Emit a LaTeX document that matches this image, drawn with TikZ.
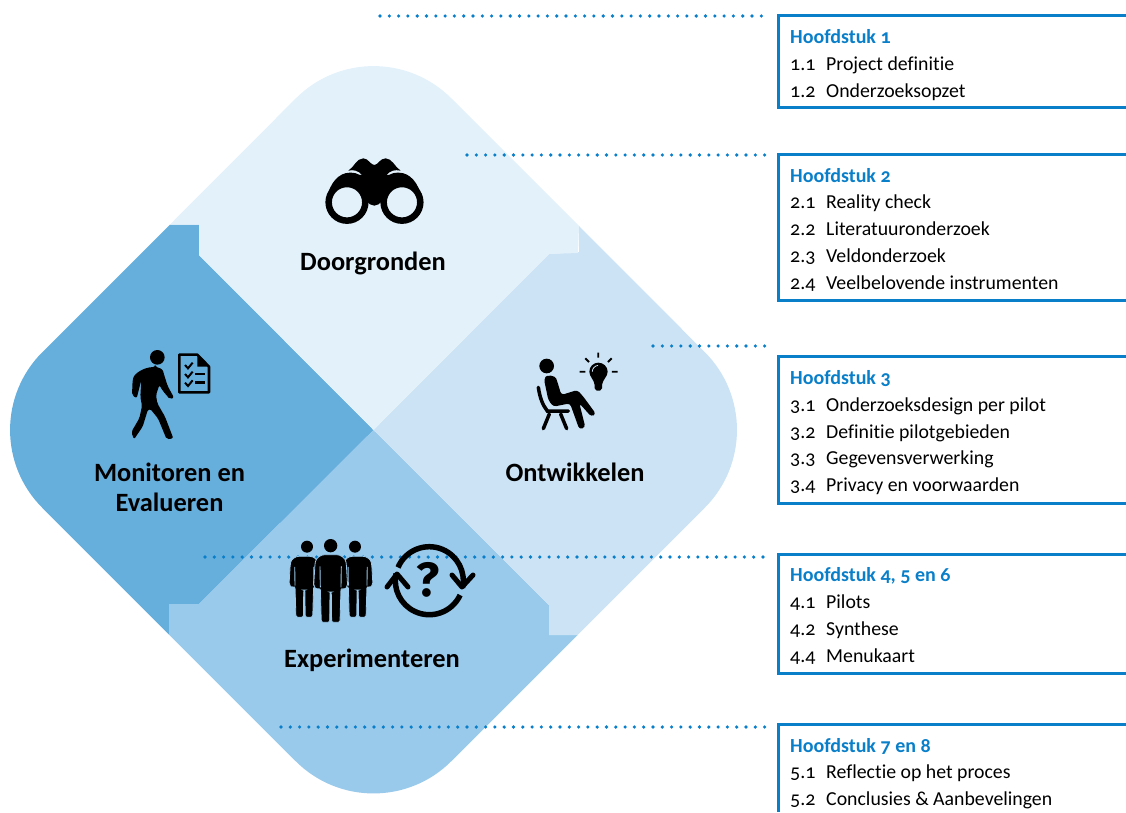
\documentclass[tikz,border=0pt]{standalone}
\usepackage{fontspec}
\setmainfont[Numbers=OldStyle,Ligatures=NoCommon]{Carlito}
\newfontfamily\questfont{Fira Sans}
\definecolor{topblue}{HTML}{E3F1FA}
\definecolor{rightblue}{HTML}{CBE3F4}
\definecolor{bottomblue}{HTML}{99CAEB}
\definecolor{leftblue}{HTML}{66AFDD}
\definecolor{chapblue}{HTML}{0A7FC9}
\tikzset{
  chaphead/.style={anchor=base west,inner sep=0pt,text=chapblue,font=\fontsize{20}{24}\selectfont\bfseries},
  chapnum/.style={anchor=base west,inner sep=0pt,font=\fontsize{20}{24}\selectfont},
  chapitem/.style={anchor=base west,inner sep=0pt,font=\fontsize{19.8}{24}\selectfont},
  phase/.style={anchor=base,inner sep=0pt,font=\fontsize{26.4}{30}\selectfont\bfseries},
  chapline/.style={chapblue,line width=3pt},
  dotline/.style={chapblue,line width=3.6pt,line cap=round,dash pattern=on 0pt off 9.3pt},
  person/.pic={
    \filldraw[draw=bottomblue,line width=.8pt,rounded corners=2pt] (-47,28) .. controls (-44,10) and (-30,0) .. (-12,0) -- (12,0) .. controls (30,0) and (44,10) .. (47,28)
      -- (51,95) -- (40,106) -- (31,100) -- (28,203) -- (3,203) -- (2,112) -- (-2,112) -- (-3,203) -- (-28,203) -- (-31,100) -- (-40,106) -- (-51,95) -- cycle;
    \draw[bottomblue,line width=.9pt] (-32,35) -- (-31,98) (32,35) -- (31,98);
  }
}
\begin{document}
\begin{tikzpicture}[x=1pt,y=-1pt]
\useasboundingbox (0,0) rectangle (1126,812);

% the four quarters of the rounded diamond
\coordinate (top) at (373.5,20.5);
\coordinate (right) at (782.5,430);
\coordinate (bottom) at (373.5,839);
\coordinate (left) at (-35.5,430);
\coordinate (mid) at (373.5,430);

\fill[leftblue] (170,224.5) -- (199,224.5) -- (199,255) -- (mid) -- (199,604) -- (169,604) -- (169,634.5) [rounded corners=110pt] -- (left) [sharp corners] -- cycle;
\fill[bottomblue] (mid) -- (549,605) -- (549,635) -- (577.5,635) [rounded corners=110pt] -- (bottom) [sharp corners] -- (169,634.5) -- (169,604) -- (199,604) -- cycle;
\fill[rightblue] (mid) -- (549,254) -- (579,252) -- (579,226) [rounded corners=110pt] -- (right) [sharp corners] -- (577.5,635) -- (549,635) -- (549,605) -- cycle;
\fill[topblue] (mid) -- (199,255) -- (199,224.5) -- (170,224.5) [rounded corners=110pt] -- (top) [sharp corners] -- (579,226) -- (578,253) -- (549,254) -- cycle;

% dotted leaders
\coordinate (d1) at (380,16);
\coordinate (e1) at (767,16);
\coordinate (d2) at (467,155);
\coordinate (e2) at (767,155);
\coordinate (d3) at (653,346);
\coordinate (e3) at (767,346);
\coordinate (d4) at (205,557);
\coordinate (e4) at (767,557);
\coordinate (d5) at (281,727);
\coordinate (e5) at (767,727);
\foreach \n in {1,...,5}{
\draw[dotline] (d\n) -- (e\n);
}

% chapter brackets
\coordinate (b1) at (778.5,15.5);
\coordinate (c1) at (778.5,107.5);
\coordinate (b2) at (778.5,154.5);
\coordinate (c2) at (778.5,300);
\coordinate (b3) at (778.5,356);
\coordinate (c3) at (778.5,503);
\coordinate (b4) at (778.5,554.5);
\coordinate (c4) at (778.5,673);
\coordinate (b5) at (778.5,724.5);
\coordinate (c5) at (778.5,812);
\foreach \n in {1,...,4}{
\draw[chapline] (1126,0 |- b\n) -- (b\n) -- (c\n) -- (1126,0 |- c\n);
}
\draw[chapline] (1126,0 |- b5) -- (b5) -- (c5);

% chapter texts
\node[chaphead] (h1) at (790,43) {Hoofdstuk 1};
\node[chapnum] (n11) at (790,70) {1.1};
\node[chapitem] (t11) at (826,70) {Project definitie};
\node[chapnum] (n12) at (790,97) {1.2};
\node[chapitem] (t12) at (826,97) {Onderzoeksopzet};

\node[chaphead] (h2) at (790,182) {Hoofdstuk 2};
\node[chapnum] (n21) at (790,208) {2.1};
\node[chapitem] (t21) at (826,208) {Reality check};
\node[chapnum] (n22) at (790,235) {2.2};
\node[chapitem] (t22) at (826,235) {Literatuuronderzoek};
\node[chapnum] (n23) at (790,262) {2.3};
\node[chapitem] (t23) at (826,262) {Veldonderzoek};
\node[chapnum] (n24) at (790,289) {2.4};
\node[chapitem] (t24) at (826,289) {Veelbelovende instrumenten};

\node[chaphead] (h3) at (790,384) {Hoofdstuk 3};
\node[chapnum] (n31) at (790,411) {3.1};
\node[chapitem] (t31) at (826,411) {Onderzoeksdesign per pilot};
\node[chapnum] (n32) at (790,438) {3.2};
\node[chapitem] (t32) at (826,438) {Definitie pilotgebieden};
\node[chapnum] (n33) at (790,464) {3.3};
\node[chapitem] (t33) at (826,464) {Gegevensverwerking};
\node[chapnum] (n34) at (790,491) {3.4};
\node[chapitem] (t34) at (826,491) {Privacy en voorwaarden};

\node[chaphead] (h4) at (790,581) {Hoofdstuk 4, 5 en 6};
\node[chapnum] (n41) at (790,608) {4.1};
\node[chapitem] (t41) at (826,608) {Pilots};
\node[chapnum] (n42) at (790,635) {4.2};
\node[chapitem] (t42) at (826,635) {Synthese};
\node[chapnum] (n44) at (790,662) {4.4};
\node[chapitem] (t44) at (826,662) {Menukaart};

\node[chaphead] (h5) at (790,752) {Hoofdstuk 7 en 8};
\node[chapnum] (n51) at (790,778) {5.1};
\node[chapitem] (t51) at (826,778) {Reflectie op het proces};
\node[chapnum] (n52) at (790,805) {5.2};
\node[chapitem] (t52) at (826,805) {Conclusies \& Aanbevelingen};

% phase names
\node[phase] (doorgronden) at (373,270) {Doorgronden};
\node[phase] (ontwikkelen) at (575,481) {Ontwikkelen};
\node[phase] (monitoren) at (169.5,481) {Monitoren en};
\node[phase] (evalueren) at (169.5,511) {Evalueren};
\node[phase] (experimenteren) at (372,667) {Experimenteren};

% binoculars
\begin{scope}[shift={(130,60)},x=.3333pt,y=-.3333pt]
\fill (655,332) .. controls (672,322) and (680,295) .. (700,295) .. controls (715,295) and (722,315) .. (733,315) .. controls (744,315) and (750,295) .. (767,295) .. controls (787,295) and (795,322) .. (812,332) .. controls (795,328) and (780,332) .. (770,345) -- (696,345) .. controls (686,332) and (670,328) .. (655,332) -- cycle;
\fill (590,415) .. controls (600,370) and (625,338) .. (660,338) .. controls (672,338) and (682,340) .. (690,345) -- (776,345) .. controls (784,340) and (794,338) .. (806,338) .. controls (841,338) and (866,370) .. (876,415) -- (757,420) .. controls (750,432) and (742,437) .. (733,437) .. controls (724,437) and (716,432) .. (709,420) -- cycle;
\draw[line width=6.5pt,fill=topblue] (651,427) circle (55) (816,427) circle (55);
\end{scope}

% walker and checklist
\begin{scope}[shift={(120,340)},x=.3333pt,y=-.3333pt]
\fill (112,52) circle (22);
\fill[rounded corners=2pt] (105,81) .. controls (118,82) and (128,88) .. (131,100) -- (143,138) -- (162,173) -- (150,178) -- (128,152) -- (118,135) -- (108,165) -- (112,190) -- (135,230) -- (160,295) -- (140,298) -- (114,235) -- (90,206) -- (84,208) -- (68,260) -- (42,298) -- (34,276) -- (58,235) -- (66,198) -- (61,170) -- (64,120) -- (50,175) -- (36,165) -- (38,118) .. controls (45,100) and (70,82) .. (105,81) -- cycle;
\draw[line width=2.6pt,fill=leftblue,line join=round] (178,44) -- (232,44) -- (267,80) -- (267,157) -- (178,157) -- cycle;
\fill (232,44) -- (267,80) -- (232,80) -- cycle;
\draw[line width=2pt] (195,75) -- (204,85) -- (218,68) (195,102) -- (204,112) -- (218,95) (195,128) -- (204,138) -- (218,121);
\draw[line width=2.6pt] (226,102) -- (256,102) (226,127) -- (256,127);
\end{scope}

% sitter and bulb
\begin{scope}[shift={(520,340)},x=.3333pt,y=-.3333pt]
\fill (80,78) circle (22);
\fill[rounded corners=3pt] (72,118) .. controls (80,105) and (105,105) .. (112,125) -- (124,165) -- (172,150) -- (190,170) -- (228,222) -- (214,230) -- (178,190) -- (196,262) -- (178,268) -- (150,190) -- (100,200) -- (85,180) -- cycle;
\draw[line width=3.5pt,line cap=round] (55,142) .. controls (60,175) and (68,195) .. (82,213) -- (145,213);
\draw[line width=3.5pt,line cap=round] (88,222) -- (70,266) (122,222) -- (140,266);
\fill (235,68) .. controls (220,68) and (208,80) .. (208,95) .. controls (208,110) and (222,118) .. (224,135) -- (224,145) -- (230,152) -- (240,152) -- (246,145) -- (246,135) .. controls (248,118) and (263,110) .. (263,95) .. controls (263,80) and (250,68) .. (235,68) -- cycle;
\draw[rightblue,line width=.8pt] (217,95) .. controls (217,85) and (224,78) .. (234,76);
\draw[line width=1.8pt] (179,95) -- (196,95) (276,95) -- (293,95) (235,38) -- (235,53) (196,55) -- (207,66) (275,55) -- (264,66);
\end{scope}

% three people
\begin{scope}[shift={(160,530)},x=.3333pt,y=-.3333pt]
\fill (441,50) circle (18) (585,50) circle (18) (512,47) circle (20);
\path (433,79) pic[scale=.9] {person};
\path (593,79) pic[scale=.9] {person};
\path (512,74) pic {person};
\end{scope}

% question in a cycle
\coordinate (cyc) at (429.3,580.7);
\draw[line width=5.5pt] (cyc) ++(157:34pt) arc (157:-12:34pt);
\draw[line width=5.5pt] (cyc) ++(-25:34pt) arc (-25:-192:34pt);
\draw[line width=5pt,line cap=round,line join=round] (387,587) -- (397,574) -- (408,587);
\draw[line width=5pt,line cap=round,line join=round] (452,575) -- (462,587) -- (473,575);
\node[inner sep=0pt,font=\questfont\fontsize{48}{48}\selectfont\bfseries] (quest) at (428,580) {?};

\end{tikzpicture}
\end{document}
